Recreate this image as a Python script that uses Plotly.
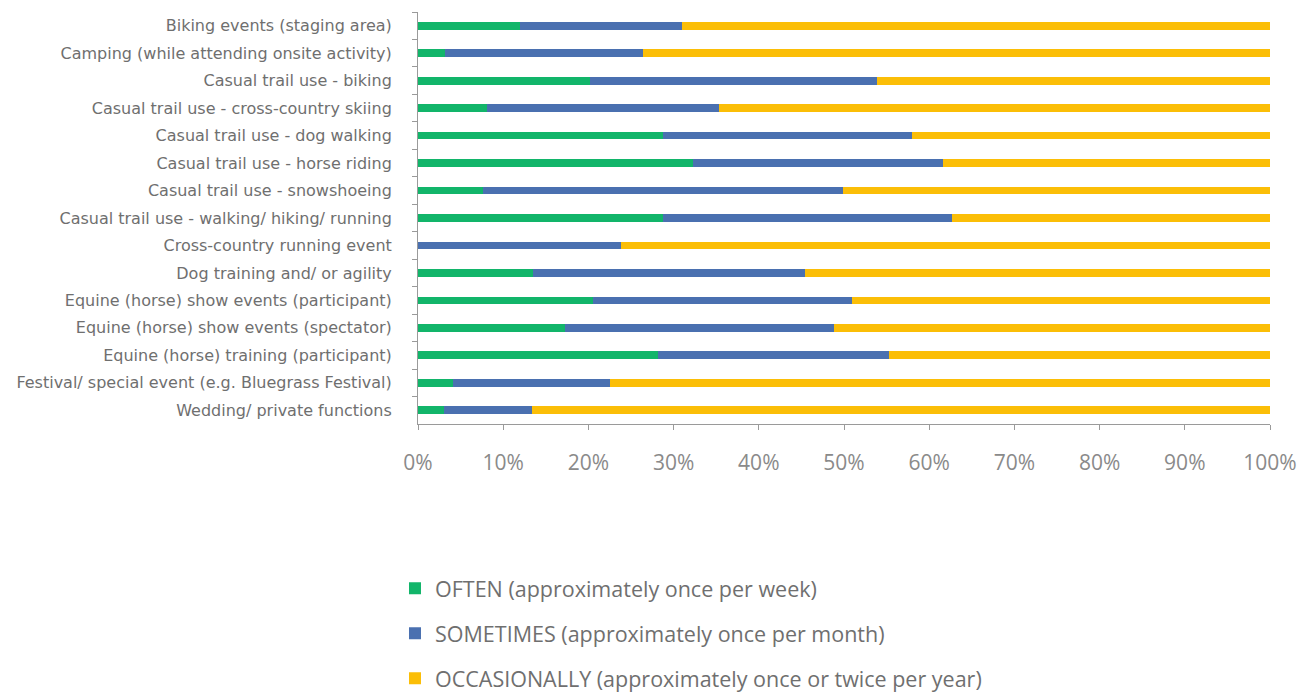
import plotly.graph_objects as go

categories = [
    "Biking events (staging area)",
    "Camping (while attending onsite activity)",
    "Casual trail use - biking",
    "Casual trail use - cross-country skiing",
    "Casual trail use - dog walking",
    "Casual trail use - horse riding",
    "Casual trail use - snowshoeing",
    "Casual trail use - walking/ hiking/ running",
    "Cross-country running event",
    "Dog training and/ or agility",
    "Equine (horse) show events (participant)",
    "Equine (horse) show events (spectator)",
    "Equine (horse) training (participant)",
    "Festival/ special event (e.g. Bluegrass Festival)",
    "Wedding/ private functions",
]
often = [12.0, 3.2, 20.2, 8.1, 28.8, 32.3, 7.6, 28.8, 0.0, 13.5, 20.5, 17.3, 28.2, 4.1, 3.1]
sometimes = [19.0, 23.2, 33.7, 27.2, 29.2, 29.3, 42.3, 33.9, 23.8, 31.9, 30.4, 31.5, 27.1, 18.4, 10.3]
occasionally = [69.0, 73.6, 46.1, 64.7, 42.0, 38.4, 50.1, 37.3, 76.2, 54.6, 49.1, 51.2, 44.7, 77.5, 86.6]

series = [
    ("OFTEN (approximately once per week)", often, "#12B56A"),
    ("SOMETIMES (approximately once per month)", sometimes, "#4A70B0"),
    ("OCCASIONALLY (approximately once or twice per year)", occasionally, "#FBBE07"),
]

fig = go.Figure()
for i, (name, vals, color) in enumerate(series):
    fig.add_trace(go.Bar(
        y=categories, x=[v / 100 for v in vals], name=name, orientation="h",
        marker=dict(color=color, line=dict(width=0)),
        legendgroup=f"g{i}",
    ))

fig.update_layout(
    barmode="stack",
    bargap=0.72,
    width=1309, height=693,
    margin=dict(l=410, r=47, t=4, b=277, autoexpand=False),
    plot_bgcolor="white", paper_bgcolor="white",
    font=dict(family="DejaVu Sans, Arial, sans-serif", color="#7a7a7a"),
    showlegend=True,
    legend=dict(
        x=-0.027, y=-0.349, xanchor="left", yanchor="top",
        orientation="v", traceorder="grouped", tracegroupgap=14,
        font=dict(family="Open Sans, Calibri, sans-serif", size=21.5, color="#6f6f6f"),
        itemwidth=30, bgcolor="rgba(0,0,0,0)",
    ),
)
fig.update_xaxes(
    range=[0, 1], tickformat=".0%", dtick=0.1,
    showgrid=False, zeroline=False,
    showline=True, linecolor="#9a9a9a", linewidth=1,
    ticks="outside", ticklen=5, tickcolor="#9a9a9a",
    tickfont=dict(family="Open Sans, Calibri, sans-serif", size=21, color="#8a8a8a"),
    ticklabelstandoff=15,
)
fig.update_yaxes(
    autorange="reversed", showgrid=False,
    showline=True, linecolor="#9a9a9a", linewidth=1,
    ticks="outside", ticklen=5, tickcolor="#9a9a9a", tickson="boundaries",
    tickfont=dict(family="DejaVu Sans, Arial, sans-serif", size=16, color="#6f6f6f"),
    ticklabelstandoff=22,
)

fig.write_html("out.html")
